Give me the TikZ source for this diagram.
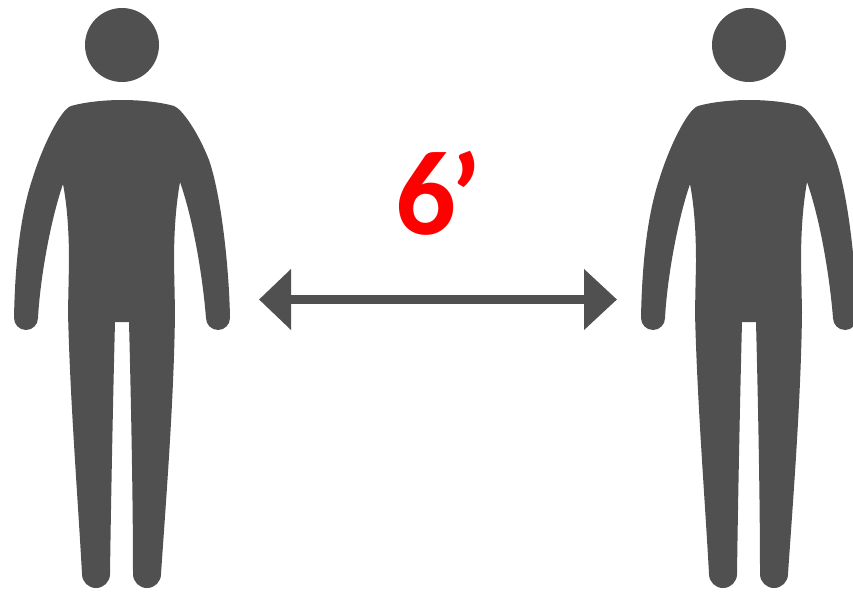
\documentclass[tikz,border=0pt]{standalone}
\usepackage{fontspec}
\setmainfont{Carlito}
\usetikzlibrary{arrows.meta}
\definecolor{figgray}{HTML}{505050}
\tikzset{
  silhouette/.style={fill=figgray,draw=none},
  distline/.style={draw=figgray,line width=9pt,{Triangle[length=32pt,width=59pt]}-{Triangle[length=33pt,width=59pt]}},
  distlabel/.style={text=red,font=\fontsize{120pt}{120pt}\selectfont\bfseries,inner sep=0pt,anchor=base west},
  person/.pic={
    \fill[silhouette] (122,45) circle[radius=37];
    \fill[silhouette]
      (71,106) .. controls (85,102) and (105,100) .. (122,100)
      .. controls (140,100) and (160,102) .. (174,106)
      .. controls (182,109) and (198,132) .. (209,160)
      .. controls (221,195) and (229,265) .. (230,318)
      arc[start angle=0,end angle=180,radius=12]
      -- (206,318)
      .. controls (203,280) and (194,222) .. (180,182)
      .. controls (176,205) and (174,230) .. (174,262)
      -- (175,312)
      .. controls (174,400) and (166,500) .. (161,574)
      arc[start angle=0,end angle=180,radius=14]
      .. controls (133,500) and (131,400) .. (129,322)
      -- (115,322)
      .. controls (113,400) and (111,500) .. (110,574)
      arc[start angle=0,end angle=180,radius=14]
      .. controls (78,500) and (70,400) .. (68,312)
      -- (69,262)
      .. controls (69,230) and (67,205) .. (63,184)
      .. controls (50,222) and (40,280) .. (38,318)
      arc[start angle=0,end angle=180,radius=12]
      .. controls (15,265) and (20,215) .. (33,177)
      .. controls (42,148) and (60,110) .. (71,106)
      -- cycle;
  }
}
\begin{document}
\begin{tikzpicture}[x=1pt,y=-1pt]
  \useasboundingbox (0,0) rectangle (853,596);
  \fill[white] (0,0) rectangle (853,596);
  \pic at (0,0) {person};
  \pic at (627,0) {person};
  \coordinate (leftend) at (259,299.5);
  \coordinate (rightend) at (617,299.5);
  \draw[distline] (leftend) -- (rightend);
  \node[distlabel] (dist) at (395,234) {6\kern-6pt\raisebox{-4pt}{’}};
\end{tikzpicture}
\end{document}
